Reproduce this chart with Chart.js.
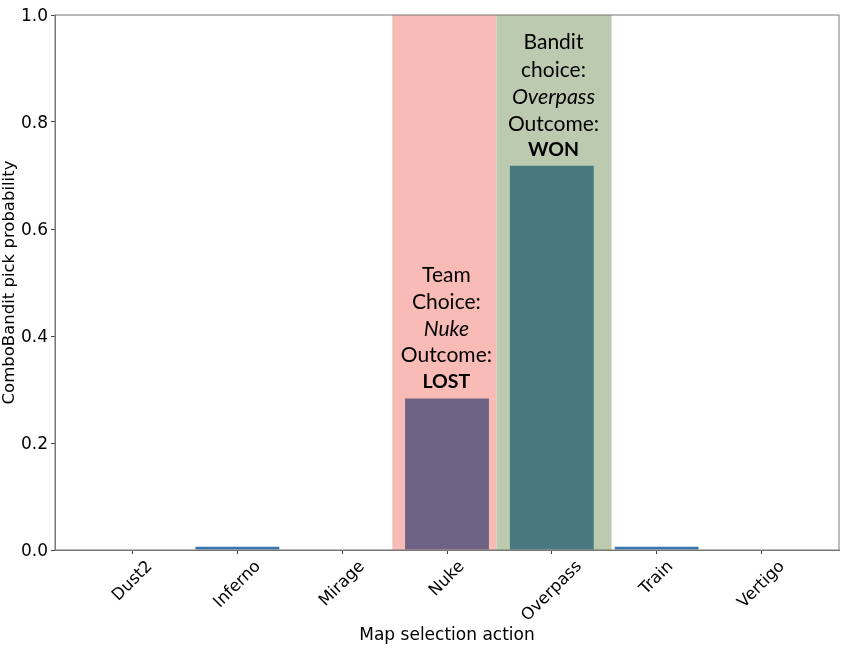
<!DOCTYPE html>
<html>
<head>
<meta charset="utf-8">
<title>ComboBandit pick probability</title>
<script src="https://cdn.jsdelivr.net/npm/chart.js@4"></script>
<style>
  html, body { margin: 0; background: #fff; }
  canvas { display: block; }
</style>
</head>
<body>
<canvas id="chart" width="850" height="648"></canvas>
<script>
const MAPS = ["Dust2", "Inferno", "Mirage", "Nuke", "Overpass", "Train", "Vertigo"];
const PROBS = [0.0, 0.006, 0.0, 0.283, 0.718, 0.006, 0.0];
const BAR_COLORS = ["#3a76af", "#3a76af", "#3a76af", "#6e6285", "#47797f", "#3a76af", "#3a76af"];
const Y_TICKS = [0, 0.2, 0.4, 0.6, 0.8, 1.0];

// shaded spans behind the bars: [from, to, colour], in x axis units
const BANDS = [
  [2.478, 3.472, "#f8bbb5"],
  [3.472, 4.570, "#bccbb0"],
];
// callout lines: [text, font, x value, y value]
const NOTES = [
  ["Team", "21px", 2.994, 0.5145],
  ["Choice:", "21px", 2.994, 0.4640],
  ["Nuke", "italic 21px", 2.994, 0.4135],
  ["Outcome:", "21px", 2.994, 0.3635],
  ["LOST", "bold 19.5px", 2.994, 0.3150],
  ["Bandit", "21px", 4.016, 0.9490],
  ["choice:", "21px", 4.016, 0.8970],
  ["Overpass", "italic 21.5px", 4.016, 0.8465],
  ["Outcome:", "21px", 4.016, 0.7960],
  ["WON", "bold 19.5px", 4.016, 0.7475],
];

const TICK_FONT = { family: "'DejaVu Sans'", size: 17 };
const SMALL_FONT = { family: "'DejaVu Sans'", size: 16.5 };
const SPINE = "#777";

const bandsAndNotes = {
  id: "bandsAndNotes",
  beforeDatasetsDraw(chart) {
    const { ctx, chartArea: a, scales: { x } } = chart;
    BANDS.forEach(([from, to, color]) => {
      const x0 = x.getPixelForValue(from), x1 = x.getPixelForValue(to);
      ctx.fillStyle = color;
      ctx.fillRect(x0, a.top, x1 - x0, a.bottom - a.top);
    });
  },
  afterDatasetsDraw(chart) {
    const { ctx, chartArea: a, scales: { x, y } } = chart;
    ctx.save();
    ctx.strokeStyle = SPINE;
    ctx.lineWidth = 1;
    ctx.strokeRect(a.left, a.top, a.right - a.left, a.bottom - a.top);
    ctx.fillStyle = "#000";
    ctx.textAlign = "center";
    ctx.textBaseline = "middle";
    NOTES.forEach(([text, font, vx, vy]) => {
      ctx.font = `${font} Lato`;
      ctx.fillText(text, x.getPixelForValue(vx), y.getPixelForValue(vy));
    });
    ctx.restore();
  },
};

// matplotlib centres rotated labels under the tick, Chart.js ends them there
function centreRotatedLabels(scale) {
  if (scale._centred) return;
  scale._centred = true;
  const orig = scale._computeLabelItems;
  scale._computeLabelItems = function (area) {
    const items = orig.call(scale, area);
    const c = scale.ctx;
    c.save();
    c.font = `${SMALL_FONT.size}px ${SMALL_FONT.family}`;
    items.forEach(it => {
      it.options.translation[0] += c.measureText(it.label).width * Math.SQRT1_2 / 2;
    });
    c.restore();
    return items;
  };
}

// y labels sit a touch higher than in the reference
function nudgeYLabels(scale) {
  if (scale._nudged) return;
  scale._nudged = true;
  const orig = scale._computeLabelItems;
  scale._computeLabelItems = function (area) {
    const items = orig.call(scale, area);
    items.forEach(it => { it.options.translation[1] += 1.5; });
    return items;
  };
}

new Chart(document.getElementById("chart"), {
  type: "bar",
  data: {
    datasets: [{
      data: PROBS.map((v, i) => ({ x: i, y: v })),
      backgroundColor: BAR_COLORS,
      barPercentage: 0.8,
      categoryPercentage: 1,
    }],
  },
  options: {
    responsive: false,
    animation: false,
    devicePixelRatio: 1,
    layout: { padding: { top: 15, right: 11, left: 0, bottom: 2 } },
    plugins: { legend: { display: false }, tooltip: { enabled: false } },
    scales: {
      x: {
        type: "linear",
        offset: false,
        min: -0.74,
        max: 6.74,
        afterBuildTicks: (s) => { s.ticks = MAPS.map((m, i) => ({ value: i })); },
        afterFit: (s) => { s.height = 96; centreRotatedLabels(s); },
        grid: { display: true, offset: false, drawOnChartArea: false, tickLength: 4, tickColor: "#444", tickWidth: 1 },
        border: { color: SPINE },
        ticks: {
          autoSkip: false,
          minRotation: 45,
          maxRotation: 45,
          padding: 3,
          color: "#000",
          font: SMALL_FONT,
          callback: (v) => MAPS[v],
        },
        title: { display: true, text: "Map selection action", color: "#000", font: TICK_FONT, padding: 0 },
      },
      y: {
        min: 0,
        max: 1,
        afterBuildTicks: (s) => { s.ticks = Y_TICKS.map((v) => ({ value: v })); },
        afterFit: (s) => { s.width = 55; nudgeYLabels(s); },
        grid: { display: true, drawOnChartArea: false, tickLength: 4, tickColor: "#444", tickWidth: 1 },
        border: { color: SPINE },
        ticks: { padding: 3, color: "#000", font: TICK_FONT, callback: (v) => v.toFixed(1) },
        title: { display: true, text: "ComboBandit pick probability", color: "#000", font: SMALL_FONT, padding: 0 },
      },
    },
  },
  plugins: [bandsAndNotes],
});
</script>
</body>
</html>
